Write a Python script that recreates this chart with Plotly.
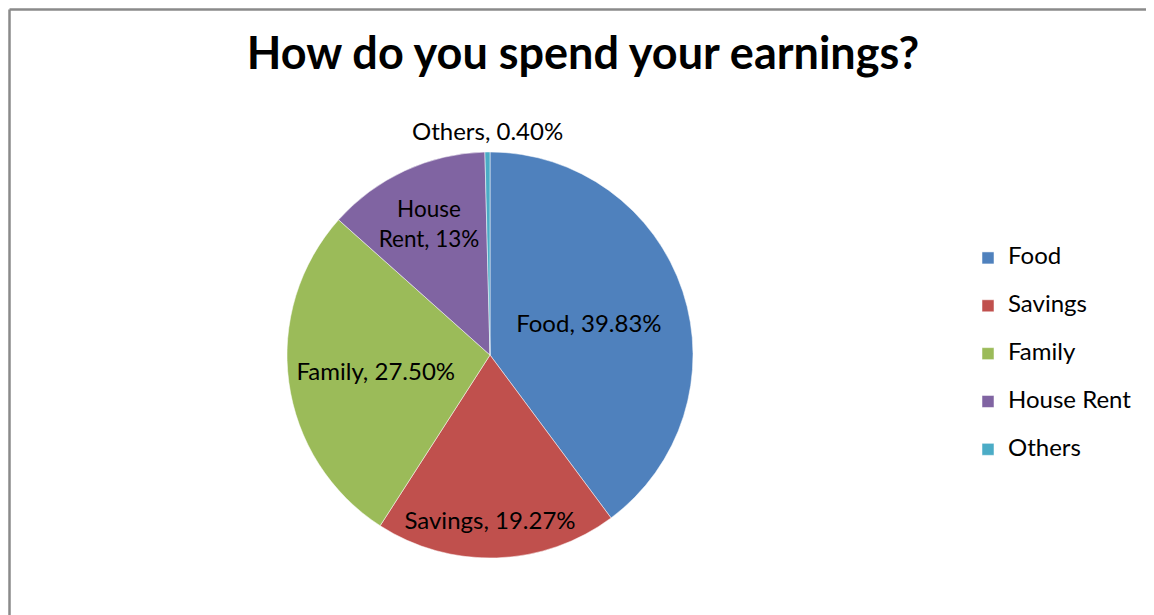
import math
import plotly.graph_objects as go

categories = ["Food", "Savings", "Family", "House Rent", "Others"]
values = [39.83, 19.27, 27.50, 13.0, 0.40]
slice_text = ["Food, 39.83%", "Savings, 19.27%", "Family, 27.50%", "House<br>Rent, 13%", "Others, 0.40%"]
colors = ["#4F81BD", "#C0504D", "#9BBB59", "#8064A2", "#4BACC6"]

OFF = 8  # page body margin
W, H = 1154 - OFF, 615 - OFF
FONT = "Lato, 'Open Sans', sans-serif"


def px(x):
    return (x - OFF) / W


def py(y):
    return 1 - (y - OFF) / H


# pie geometry (page pixels)
CX, CY, R = 490, 355, 203

inside_text = [t if i < 4 else "" for i, t in enumerate(slice_text)]

fig = go.Figure()
fig.add_trace(go.Pie(
    labels=[f"<span style='font-size:24px;baseline-shift:7px'>{c}</span>" for c in categories],
    values=values,
    text=inside_text,
    textinfo="text",
    sort=False,
    direction="clockwise",
    rotation=0,
    marker=dict(colors=colors, line=dict(color="white", width=0.5)),
    textposition="inside",
    insidetextorientation="horizontal",
    textfont=dict(family=FONT, size=24, color="black"),
    domain=dict(x=[px(CX - R), px(CX + R)], y=[py(CY + R), py(CY - R)]),
    hoverinfo="percent",
))

# label for the tiny last slice, placed just outside the rim at its mid-angle
total = sum(values)
mid = (sum(values[:4]) + values[4] / 2) / total * 2 * math.pi
lx = CX + (R + 22) * math.sin(mid)
ly = CY - (R + 22) * math.cos(mid)

border = dict(color="#8a8a8a", width=2.5)
fig.update_layout(
    width=W, height=H,
    margin=dict(l=0, r=0, t=0, b=0),
    paper_bgcolor="white",
    title=dict(text="<b>How do you spend your earnings?</b>", x=px(583), xanchor="center",
               y=py(53), yanchor="middle",
               font=dict(family=FONT, size=45, color="black")),
    legend=dict(x=px(968), xanchor="left", y=py(354), yanchor="middle",
                font=dict(family=FONT, size=34.5, color="black"),
                bgcolor="rgba(0,0,0,0)"),
    annotations=[dict(text=slice_text[4], x=px(lx), y=py(ly), xref="paper", yref="paper",
                      xanchor="center", yanchor="middle", showarrow=False,
                      font=dict(family=FONT, size=24, color="black"))],
    shapes=[
        dict(type="line", xref="paper", yref="paper",
             x0=px(9.5), x1=1.0, y0=py(9.5), y1=py(9.5), line=border, layer="below"),
        dict(type="line", xref="paper", yref="paper",
             x0=px(9.5), x1=px(9.5), y0=0.0, y1=py(9.5), line=border, layer="below"),
    ],
)

fig.write_html("out.html")
